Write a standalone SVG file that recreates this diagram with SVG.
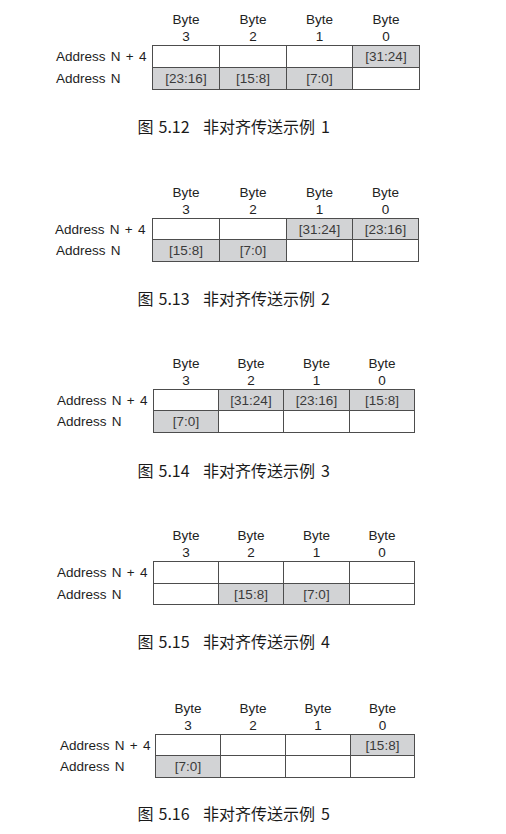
<svg xmlns="http://www.w3.org/2000/svg" width="506" height="834" viewBox="0 0 506 834">
<style>
  text { font-family: "Liberation Sans", Arial, sans-serif; }
  .hd { font-size: 13.5px; fill: #222; text-anchor: middle; }
  .lb { font-size: 13.5px; fill: #1e1e1e; word-spacing: 1.5px; }
  .ct { font-size: 13.5px; fill: #3a3a3a; text-anchor: middle; }
  .w { fill: #ffffff; stroke: #4d4d4d; stroke-width: 1; }
  .g { fill: #d2d3d5; stroke: #4d4d4d; stroke-width: 1; }
  .cap { font-family: "Noto Sans CJK SC", "Noto Sans", sans-serif; font-size: 16px; fill: #1a1a1a; }
</style>
<rect width="506" height="834" fill="#ffffff"/>

<!-- Figure 5.12 -->
<g id="fig512">
  <text class="hd" x="186" y="24.3">Byte</text><text class="hd" x="186" y="40.5">3</text>
  <text class="hd" x="253" y="24.3">Byte</text><text class="hd" x="253" y="40.5">2</text>
  <text class="hd" x="319.5" y="24.3">Byte</text><text class="hd" x="319.5" y="40.5">1</text>
  <text class="hd" x="386" y="24.3">Byte</text><text class="hd" x="386" y="40.5">0</text>
  <text class="lb" x="56" y="61.3">Address N + 4</text>
  <text class="lb" x="56" y="83">Address N</text>
  <rect class="w" x="152.5" y="45.5" width="67" height="22"/>
  <rect class="w" x="219.5" y="45.5" width="67" height="22"/>
  <rect class="w" x="286.5" y="45.5" width="66" height="22"/>
  <rect class="g" x="352.5" y="45.5" width="67" height="22"/>
  <rect class="g" x="152.5" y="67.5" width="67" height="22"/>
  <rect class="g" x="219.5" y="67.5" width="67" height="22"/>
  <rect class="g" x="286.5" y="67.5" width="66" height="22"/>
  <rect class="w" x="352.5" y="67.5" width="67" height="22"/>
  <text class="ct" x="386" y="61.3">[31:24]</text>
  <text class="ct" x="186" y="83">[23:16]</text>
  <text class="ct" x="253" y="83">[15:8]</text>
  <text class="ct" x="319.5" y="83">[7:0]</text>
  <text class="cap" y="133"><tspan x="137.5">图</tspan><tspan x="158.5">5.12</tspan><tspan x="203">非对齐传送示例</tspan><tspan x="321">1</tspan></text>
</g>

<!-- Figure 5.13 -->
<g id="fig513">
  <text class="hd" x="186" y="197.2">Byte</text><text class="hd" x="186" y="213.5">3</text>
  <text class="hd" x="253" y="197.2">Byte</text><text class="hd" x="253" y="213.5">2</text>
  <text class="hd" x="319.5" y="197.2">Byte</text><text class="hd" x="319.5" y="213.5">1</text>
  <text class="hd" x="385.5" y="197.2">Byte</text><text class="hd" x="385.5" y="213.5">0</text>
  <text class="lb" x="55" y="233.8">Address N + 4</text>
  <text class="lb" x="56" y="255.3">Address N</text>
  <rect class="w" x="152.5" y="218.5" width="67" height="21"/>
  <rect class="w" x="219.5" y="218.5" width="67" height="21"/>
  <rect class="g" x="286.5" y="218.5" width="66" height="21"/>
  <rect class="g" x="352.5" y="218.5" width="66" height="21"/>
  <rect class="g" x="152.5" y="239.5" width="67" height="22"/>
  <rect class="g" x="219.5" y="239.5" width="67" height="22"/>
  <rect class="w" x="286.5" y="239.5" width="66" height="22"/>
  <rect class="w" x="352.5" y="239.5" width="66" height="22"/>
  <text class="ct" x="319.5" y="233.8">[31:24]</text>
  <text class="ct" x="385.5" y="233.8">[23:16]</text>
  <text class="ct" x="186" y="255.3">[15:8]</text>
  <text class="ct" x="253" y="255.3">[7:0]</text>
  <text class="cap" y="304.8"><tspan x="137.5">图</tspan><tspan x="158.5">5.13</tspan><tspan x="203">非对齐传送示例</tspan><tspan x="321">2</tspan></text>
</g>

<!-- Figure 5.14 -->
<g id="fig514">
  <text class="hd" x="186" y="368.2">Byte</text><text class="hd" x="186" y="384.5">3</text>
  <text class="hd" x="251" y="368.2">Byte</text><text class="hd" x="251" y="384.5">2</text>
  <text class="hd" x="316.5" y="368.2">Byte</text><text class="hd" x="316.5" y="384.5">1</text>
  <text class="hd" x="382" y="368.2">Byte</text><text class="hd" x="382" y="384.5">0</text>
  <text class="lb" x="57" y="404.8">Address N + 4</text>
  <text class="lb" x="57" y="426.3">Address N</text>
  <rect class="w" x="153.5" y="389.5" width="65" height="21"/>
  <rect class="g" x="218.5" y="389.5" width="65" height="21"/>
  <rect class="g" x="283.5" y="389.5" width="66" height="21"/>
  <rect class="g" x="349.5" y="389.5" width="65" height="21"/>
  <rect class="g" x="153.5" y="410.5" width="65" height="22"/>
  <rect class="w" x="218.5" y="410.5" width="65" height="22"/>
  <rect class="w" x="283.5" y="410.5" width="66" height="22"/>
  <rect class="w" x="349.5" y="410.5" width="65" height="22"/>
  <text class="ct" x="251" y="404.8">[31:24]</text>
  <text class="ct" x="316.5" y="404.8">[23:16]</text>
  <text class="ct" x="382" y="404.8">[15:8]</text>
  <text class="ct" x="186" y="426.3">[7:0]</text>
  <text class="cap" y="476.5"><tspan x="137.5">图</tspan><tspan x="158.5">5.14</tspan><tspan x="203">非对齐传送示例</tspan><tspan x="321">3</tspan></text>
</g>

<!-- Figure 5.15 -->
<g id="fig515">
  <text class="hd" x="186" y="540.2">Byte</text><text class="hd" x="186" y="556.5">3</text>
  <text class="hd" x="251" y="540.2">Byte</text><text class="hd" x="251" y="556.5">2</text>
  <text class="hd" x="316.5" y="540.2">Byte</text><text class="hd" x="316.5" y="556.5">1</text>
  <text class="hd" x="382" y="540.2">Byte</text><text class="hd" x="382" y="556.5">0</text>
  <text class="lb" x="57" y="577.3">Address N + 4</text>
  <text class="lb" x="57" y="598.8">Address N</text>
  <rect class="w" x="153.5" y="561.5" width="65" height="22"/>
  <rect class="w" x="218.5" y="561.5" width="65" height="22"/>
  <rect class="w" x="283.5" y="561.5" width="66" height="22"/>
  <rect class="w" x="349.5" y="561.5" width="65" height="22"/>
  <rect class="w" x="153.5" y="583.5" width="65" height="21"/>
  <rect class="g" x="218.5" y="583.5" width="65" height="21"/>
  <rect class="g" x="283.5" y="583.5" width="66" height="21"/>
  <rect class="w" x="349.5" y="583.5" width="65" height="21"/>
  <text class="ct" x="251" y="598.8">[15:8]</text>
  <text class="ct" x="316.5" y="598.8">[7:0]</text>
  <text class="cap" y="647.8"><tspan x="137.5">图</tspan><tspan x="158.5">5.15</tspan><tspan x="203">非对齐传送示例</tspan><tspan x="321">4</tspan></text>
</g>

<!-- Figure 5.16 -->
<g id="fig516">
  <text class="hd" x="188" y="713.2">Byte</text><text class="hd" x="188" y="729.5">3</text>
  <text class="hd" x="253" y="713.2">Byte</text><text class="hd" x="253" y="729.5">2</text>
  <text class="hd" x="318" y="713.2">Byte</text><text class="hd" x="318" y="729.5">1</text>
  <text class="hd" x="382.5" y="713.2">Byte</text><text class="hd" x="382.5" y="729.5">0</text>
  <text class="lb" x="60" y="749.8">Address N + 4</text>
  <text class="lb" x="60" y="771.3">Address N</text>
  <rect class="w" x="155.5" y="734.5" width="65" height="21"/>
  <rect class="w" x="220.5" y="734.5" width="65" height="21"/>
  <rect class="w" x="285.5" y="734.5" width="65" height="21"/>
  <rect class="g" x="350.5" y="734.5" width="64" height="21"/>
  <rect class="g" x="155.5" y="755.5" width="65" height="22"/>
  <rect class="w" x="220.5" y="755.5" width="65" height="22"/>
  <rect class="w" x="285.5" y="755.5" width="65" height="22"/>
  <rect class="w" x="350.5" y="755.5" width="64" height="22"/>
  <text class="ct" x="382.5" y="749.8">[15:8]</text>
  <text class="ct" x="188" y="771.3">[7:0]</text>
  <text class="cap" y="819.8"><tspan x="137.5">图</tspan><tspan x="158.5">5.16</tspan><tspan x="203">非对齐传送示例</tspan><tspan x="321">5</tspan></text>
</g>
</svg>
